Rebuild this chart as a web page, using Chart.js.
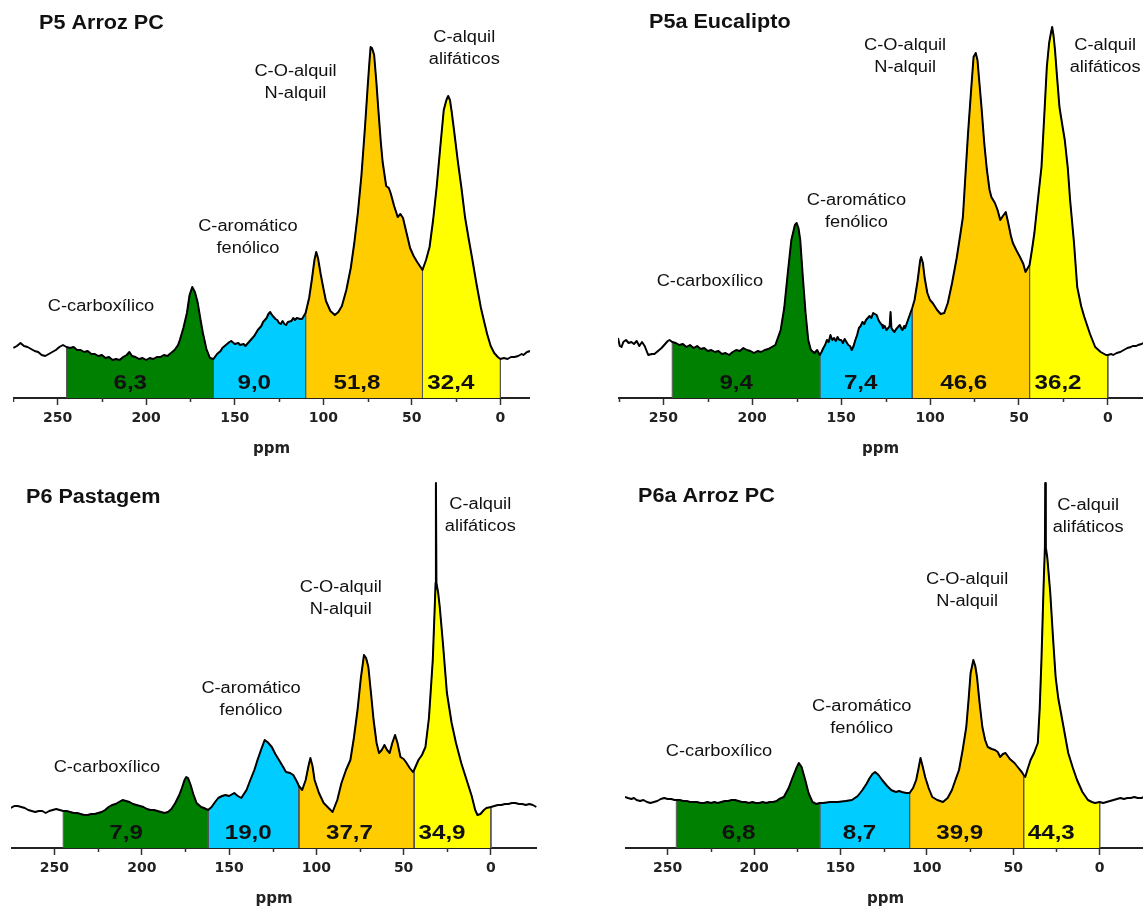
<!DOCTYPE html>
<html>
<head>
<meta charset="utf-8">
<script src="https://cdn.jsdelivr.net/npm/chart.js@4.4.1/dist/chart.umd.min.js"></script>
<style>
  html, body { margin: 0; padding: 0; background: #fff; }
  body { width: 1143px; height: 911px; overflow: hidden; position: relative; }
  canvas { position: absolute; }
</style>
</head>
<body>
<canvas id="p5" width="517" height="468" style="left:13px;top:0px"></canvas>
<canvas id="p5a" width="525" height="468" style="left:618px;top:0px"></canvas>
<canvas id="p6" width="526" height="468" style="left:11px;top:450px"></canvas>
<canvas id="p6a" width="521" height="468" style="left:625px;top:450px"></canvas>
<script>
// integration regions (ppm) and their names
const regionEdges = [245, 162, 110, 44, 0];
const regionNames = [['C-carboxílico'], ['C-aromático', 'fenólico'], ['C-O-alquil', 'N-alquil'], ['C-alquil', 'alifáticos']];
const regionColors = ['#008000', '#00ccff', '#ffcc00', '#ffff00'];
const ppmTicks = [250, 200, 150, 100, 50, 0];

// % of each region
const shareP5 = [6.3, 9.0, 51.8, 32.4];
const shareP5a = [9.4, 7.4, 46.6, 36.2];
const shareP6 = [7.9, 19.0, 37.7, 34.9];
const shareP6a = [6.8, 8.7, 39.9, 44.3];

// spectra (ppm, relative intensity)
const ppmP5 = [275, 273, 271, 269, 267, 265, 263, 261, 259, 257, 255, 253, 251, 249, 247, 245, 243, 241, 239, 237, 235, 233, 231, 229, 227, 225, 223, 221, 219, 217, 215, 213, 211, 209.5, 208, 206, 204, 202, 200, 198, 196, 194, 192, 190, 188, 186, 184, 182, 181, 179, 177, 175.5, 174, 172.5, 171, 169.5, 168, 166, 164, 162, 160, 158, 157, 155, 153, 152, 150, 148, 147, 145, 144, 142, 141, 139, 137, 135, 134, 132, 131, 130, 129, 128, 127, 126, 125, 124, 123, 122, 121, 120, 118, 117, 116, 115, 113, 112, 110, 108, 106.5, 105, 104, 103, 101.5, 100, 98.5, 96, 93.5, 91.5, 89.5, 87, 84.5, 82.5, 80.5, 78.5, 76.5, 75, 74, 73.3, 72.5, 71.3, 70, 69, 67.5, 66.5, 64.5, 63, 62, 60, 58, 56.5, 55, 53, 51, 49, 47, 44, 42, 40, 38, 36, 34, 32, 30.5, 29.5, 28.5, 27.5, 26, 24, 22, 20, 18, 16, 13.5, 11, 9, 7.5, 5.5, 3.5, 1.5, 0, -2, -4, -6, -8, -10, -12, -13, -15, -17];
const intP5 = [50, 52, 55, 52, 51, 49, 47, 46, 43, 42, 44, 46, 48, 51, 53, 51, 50, 51, 48, 48, 46, 47, 44, 44, 42, 43, 40, 41, 38, 39, 38, 41, 43, 46, 42, 41, 39, 40, 38, 40, 39, 41, 41, 43, 42, 45, 48, 53, 58, 70, 85, 103, 111, 106, 96, 80, 65, 49, 40, 39, 44, 47, 50, 53, 56, 57, 54, 55, 53, 54, 52, 56, 58, 62, 68, 72, 76, 80, 84, 86, 83, 81, 79, 78, 75, 74, 77, 74, 73, 76, 77, 80, 78, 80, 79, 79, 85, 100, 118, 138, 146, 140, 124, 110, 97, 87, 83, 86, 92, 108, 130, 155, 185, 222, 270, 310, 335, 351, 350, 343, 315, 290, 255, 236, 212, 210, 205, 192, 181, 184, 180, 165, 150, 142, 136, 128, 138, 151, 178, 211, 250, 288, 298, 302, 298, 286, 265, 236, 210, 181, 160, 140, 114, 90, 75, 64, 52, 45, 41, 39, 40, 39, 41, 41, 42, 44, 43, 46, 47];

const ppmP5a = [275.5, 274.5, 273.5, 272.5, 271, 269.5, 268, 266.5, 265, 263.5, 262, 260.5, 258.5, 256.5, 255, 253, 251, 249, 247.5, 246.5, 245, 243, 241, 239, 237, 235, 233, 231, 229, 227, 225, 223, 221, 219, 217, 215, 213, 211, 209, 207, 205, 203, 201, 199, 197, 195, 193, 191, 189, 187, 184, 182, 180, 178, 176, 175, 174, 173, 171.5, 170, 168.5, 167, 165, 163.5, 162, 161, 160, 159, 158, 157, 156, 155, 154, 153, 152, 151, 150, 149, 148, 147, 146, 145, 144, 143, 142, 141, 140, 139, 138, 137, 136, 135, 134, 133, 132, 131, 130, 129, 128, 127, 126.5, 125.5, 124.5, 123.5, 122.7, 122.2, 121.7, 121, 120, 119, 118, 117, 116, 115.5, 114.5, 114, 113, 112, 111, 110, 108.7, 107, 105.5, 105, 104, 103, 101.5, 100, 98.5, 96, 94, 92, 90, 87.6, 85, 83, 81.5, 80, 78.6, 77, 75.5, 74.3, 73.3, 72.5, 71, 69.5, 68, 66.5, 65.5, 64.5, 63.5, 62, 60.5, 59, 57.4, 56, 54.5, 53.4, 51.5, 49.4, 47.5, 46.3, 45, 44, 42.5, 41.3, 39.5, 37.3, 35.5, 34.3, 33, 32, 31.3, 30.5, 29.7, 28.5, 27.2, 25.5, 24.2, 22.5, 21.2, 19, 17.2, 15, 13.2, 10, 7.1, 4, 1, 0, -2, -3, -5, -7, -8, -10, -11, -13, -14, -16, -17, -19, -20];
const intP5a = [60, 52, 51, 56, 58, 55, 56, 54, 57, 52, 56, 52, 43, 44, 44, 47, 50, 54, 57, 58, 56, 55, 53, 54, 51, 53, 50, 52, 49, 50, 47, 48, 46, 47, 44, 45, 43, 46, 48, 47, 50, 48, 47, 45, 47, 46, 48, 49, 51, 53, 68, 90, 125, 158, 173, 175, 170, 158, 120, 85, 58, 48, 45, 48, 43, 46, 50, 53, 58, 56, 63, 58, 60, 57, 61, 58, 58, 55, 59, 56, 53, 52, 48, 52, 58, 63, 70, 72, 76, 74, 78, 80, 82, 80, 85, 84, 83, 78, 75, 73, 70, 72, 68, 70, 72, 86, 70, 68, 66, 69, 71, 73, 69, 68, 72, 70, 75, 80, 85, 90, 98, 117, 138, 141, 135, 120, 105, 98, 95, 88, 84, 85, 95, 115, 140, 163, 181, 225, 265, 305, 341, 345, 338, 321, 290, 255, 228, 208, 201, 198, 195, 188, 178, 182, 186, 175, 162, 155, 148, 141, 134, 126, 130, 133, 150, 165, 195, 231, 290, 331, 355, 365, 371, 362, 348, 320, 291, 272, 258, 230, 198, 155, 111, 92, 81, 64, 51, 46, 43, 43, 44, 43, 45, 46, 47, 49, 50, 51, 52, 52, 53, 54, 55];

const ppmP6 = [275, 273, 271, 269, 267, 265, 263, 261, 259, 257, 255, 253, 251, 249, 247, 245, 243, 241, 239, 237, 235, 233, 231, 229, 227, 225, 223, 221, 219, 217, 215, 213, 211, 209, 207, 205, 203, 201, 199, 197, 195, 193, 191, 189, 187, 185, 183, 180.8, 178.5, 177, 175.5, 174.5, 173.5, 172, 170.5, 168.6, 166, 164.4, 162, 160, 158, 156.2, 154, 152, 150, 148, 147, 145, 143, 140, 137.8, 135.5, 133.7, 131.5, 129.6, 128, 125.5, 123.5, 121.4, 119, 117.4, 115, 113.2, 111, 110, 108.1, 106.1, 104.5, 103.4, 102.2, 101, 98.5, 95.8, 93, 90.7, 88, 85.6, 83, 80.5, 78.5, 76.4, 74.5, 72.7, 71.5, 70.2, 68.7, 67.2, 65.5, 64.1, 62.5, 61, 59.5, 58, 56.5, 54.9, 53.5, 51.8, 50, 48.7, 46.5, 44.7, 44, 42.5, 41.5, 39.5, 37.5, 35.5, 33.3, 32.2, 31.7, 31.5, 31.2, 30.2, 29.3, 27.5, 25.2, 22.5, 20, 17, 13.9, 11, 9, 7.7, 6, 4, 2.6, 0, -2, -4, -6, -8, -10, -12, -14, -16, -18, -20, -22, -24, -26];
const intP6 = [40, 42, 42, 41, 40, 38, 37, 36, 37, 37, 35, 37, 38, 39, 38, 37, 37, 36, 35, 35, 34, 33, 33, 34, 34, 35, 36, 38, 41, 43, 44, 46, 48, 47, 46, 44, 43, 42, 41, 39, 38, 38, 37, 36, 35, 36, 39, 45, 53, 60, 68, 71, 70, 63, 54, 45, 41, 40, 38, 41, 46, 50, 52, 53, 52, 54, 55, 52, 50, 58, 68, 78, 88, 99, 108, 106, 101, 94, 88, 81, 76, 75, 73, 66, 62, 58, 68, 82, 90, 82, 68, 55, 45, 40, 36, 48, 65, 78, 88, 110, 138, 170, 193, 190, 181, 155, 128, 105, 95, 98, 103, 98, 95, 105, 113, 105, 91, 89, 86, 80, 76, 78, 84, 88, 93, 101, 130, 188, 240, 265, 365, 265, 255, 241, 205, 155, 125, 105, 85, 68, 52, 38, 33, 34, 38, 40, 41, 42, 43, 43, 44, 44, 45, 45, 44, 44, 43, 44, 43, 41];

const ppmP6a = [274.7, 273, 271, 269.5, 268, 266, 264, 262, 260, 258, 256, 254, 252, 250, 248, 246, 245, 243, 241, 239, 237, 235, 233, 231, 229, 227, 225, 223, 221, 219, 217, 215, 213, 211, 209, 207, 205, 203, 201, 199, 197, 195, 193, 191, 189, 187, 185.5, 182.8, 180, 177.6, 175.5, 174.1, 172.5, 170.4, 168.5, 166.2, 164, 162, 160, 156, 151.7, 147, 143.4, 140, 137.3, 135, 133.1, 131.5, 130, 128, 125.9, 123, 120.7, 118, 116, 114.5, 112, 110, 108, 106.2, 104.8, 103.7, 102.5, 101, 99, 96.9, 94, 90.7, 88, 85.5, 83.5, 81.4, 79.3, 77.2, 75.8, 74.7, 73.1, 72, 71, 69.5, 67.9, 66.3, 64.8, 62.5, 60.6, 59, 57.6, 56, 54.5, 52, 49.3, 47, 45.1, 44, 43.1, 41.5, 40, 38, 35.8, 34.7, 33.7, 32.5, 31.7, 31.5, 31.2, 30.3, 28.6, 27, 25.5, 24, 22.4, 20.3, 18.2, 15.5, 13.1, 10, 6.8, 4.5, 2.7, 0, -2, -4, -6, -8, -10, -12, -14, -16, -18, -20, -22, -24, -26];
const intP6a = [51, 50, 49, 50, 48, 47, 48, 46, 45, 46, 47, 49, 50, 49, 49, 48, 48, 48, 47, 47, 46, 46, 46, 45, 45, 46, 45, 46, 45, 46, 47, 47, 48, 48, 47, 46, 46, 45, 46, 45, 45, 46, 45, 46, 46, 47, 49, 51, 60, 71, 80, 85, 81, 68, 55, 46, 44, 45, 45, 46, 46, 47, 48, 52, 58, 64, 70, 74, 76, 73, 68, 62, 58, 56, 57, 56, 55, 55, 60, 68, 80, 90, 82, 71, 60, 51, 48, 46, 50, 58, 68, 78, 98, 121, 150, 175, 188, 182, 171, 145, 121, 108, 101, 99, 98, 96, 91, 94, 95, 89, 85, 80, 76, 73, 71, 80, 88, 95, 105, 140, 188, 260, 301, 365, 301, 290, 255, 210, 171, 150, 135, 115, 95, 80, 68, 56, 48, 46, 45, 46, 45, 46, 47, 48, 49, 50, 49, 50, 50, 51, 50, 50, 51];

const panels = {
  p5: {
    title: 'P5 Arroz PC', ppm: ppmP5, intensity: intP5, share: shareP5,
    xMin: -16.7, xMax: 275.2, titlePos: [26, 23],
    labelAt: [[225.5, 91], [142.6, 171], [115.7, 326], [20.4, 360]]
  },
  p5a: {
    title: 'P5a Eucalipto', ppm: ppmP5a, intensity: intP5a, share: shareP5a,
    xMin: -19.8, xMax: 275.5, titlePos: [31, 22],
    labelAt: [[223.8, 116], [141.4, 197], [114, 352], [1.5, 352]]
  },
  p6: {
    title: 'P6 Pastagem', ppm: ppmP6, intensity: intP6, share: shareP6,
    xMin: -26.4, xMax: 274.9, titlePos: [15, 47],
    labelAt: [[220, 80], [137.4, 159], [86, 260], [6.1, 343]]
  },
  p6a: {
    title: 'P6a Arroz PC', ppm: ppmP6a, intensity: intP6a, share: shareP6a,
    xMin: -26.8, xMax: 274.7, titlePos: [13, 46],
    labelAt: [[220.3, 96], [137.7, 141], [76.7, 268], [6.7, 342]]
  }
};

const shareAt = [209, 139, 81, 28];

function regionData(ppm, intensity, hi, lo) {
  const pts = [{ x: hi, y: 0 }];
  ppm.forEach((p, i) => {
    if (p <= hi && p >= lo) pts.push({ x: p, y: intensity[i] });
  });
  pts.push({ x: lo, y: 0 });
  return pts;
}

function stretchText(ctx, text, px, py, font, align, sx) {
  ctx.save();
  ctx.translate(px, py);
  ctx.scale(sx, 1);
  ctx.font = font;
  ctx.textAlign = align;
  ctx.fillText(text, 0, 0);
  ctx.restore();
}

const isMajor = (v) => v % 50 === 0;

function textPlugin(panel) {
  return {
    id: 'panelText',
    afterDraw(chart) {
      const { ctx, chartArea } = chart;
      const x = chart.scales.x;
      const y = chart.scales.y;
      ctx.save();

      // short minor ticks between the labelled ones
      ctx.strokeStyle = '#333';
      ctx.lineWidth = 1.5;
      x.ticks.forEach(t => {
        if (isMajor(t.value)) return;
        const px = Math.round(x.getPixelForValue(t.value)) + 0.5;
        ctx.beginPath();
        ctx.moveTo(px, chartArea.bottom);
        ctx.lineTo(px, chartArea.bottom + 4);
        ctx.stroke();
      });

      ctx.fillStyle = '#111';
      ctx.textBaseline = 'middle';
      stretchText(ctx, panel.title, chartArea.left + panel.titlePos[0], chartArea.top + panel.titlePos[1],
        'bold 20px "Liberation Sans", Arial, sans-serif', 'left', 1.08);

      regionNames.forEach((lines, k) => {
        const [p, h] = panel.labelAt[k];
        lines.forEach((line, j) => {
          stretchText(ctx, line, x.getPixelForValue(p), y.getPixelForValue(h) + j * 21.7,
            '16px "Liberation Sans", Arial, sans-serif', 'center', 1.14);
        });
      });

      panel.share.forEach((v, k) => {
        stretchText(ctx, v.toFixed(1).replace('.', ','), x.getPixelForValue(shareAt[k]), y.getPixelForValue(15),
          'bold 21px "Liberation Sans", Arial, sans-serif', 'center', 1.15);
      });
      ctx.restore();
    }
  };
}

function drawSpectrum(canvasId, panel) {
  const ctx = document.getElementById(canvasId).getContext('2d');
  const line = panel.ppm.map((p, i) => ({ x: p, y: panel.intensity[i] }));

  const datasets = [{
    data: line,
    borderColor: '#000',
    borderWidth: 2,
    borderJoinStyle: 'round',
    fill: false,
    pointRadius: 0,
    tension: 0
  }];
  regionColors.forEach((color, k) => {
    datasets.push({
      data: regionData(panel.ppm, panel.intensity, regionEdges[k], regionEdges[k + 1]),
      backgroundColor: color,
      borderColor: '#555',
      borderWidth: 1,
      fill: 'origin',
      pointRadius: 0,
      tension: 0
    });
  });

  new Chart(ctx, {
    type: 'line',
    data: { datasets: datasets },
    options: {
      responsive: false,
      animation: false,
      events: [],
      layout: { padding: 0 },
      plugins: {
        legend: { display: false },
        tooltip: { enabled: false }
      },
      scales: {
        x: {
          type: 'linear',
          reverse: true,
          min: panel.xMin,
          max: panel.xMax,
          afterFit: (scale) => { scale.height = 70; },
          afterBuildTicks: (scale) => {
            const ticks = [];
            for (let v = 0; v <= scale.max; v += 25) ticks.push({ value: v });
            scale.ticks = ticks;
          },
          border: { display: true, color: '#222', width: 2 },
          grid: {
            display: true, drawOnChartArea: false, drawTicks: true, tickLength: 7, tickWidth: 1.5,
            tickColor: (c) => (c.tick && isMajor(c.tick.value) ? '#333' : 'rgba(0,0,0,0)')
          },
          ticks: {
            autoSkip: false,
            maxRotation: 0,
            padding: 5,
            color: '#222',
            font: { family: 'DejaVu Sans', weight: 'bold', size: 14 },
            callback: (v) => (ppmTicks.includes(v) ? String(v) : '')
          },
          title: {
            display: true,
            text: 'ppm',
            color: '#222',
            font: { family: 'DejaVu Sans', weight: 'bold', size: 15 },
            padding: { top: 0, bottom: 10 }
          }
        },
        y: { display: false, min: 0, max: 398 }
      }
    },
    plugins: [textPlugin(panel)]
  });
}

Object.keys(panels).forEach(id => drawSpectrum(id, panels[id]));
</script>
</body>
</html>
